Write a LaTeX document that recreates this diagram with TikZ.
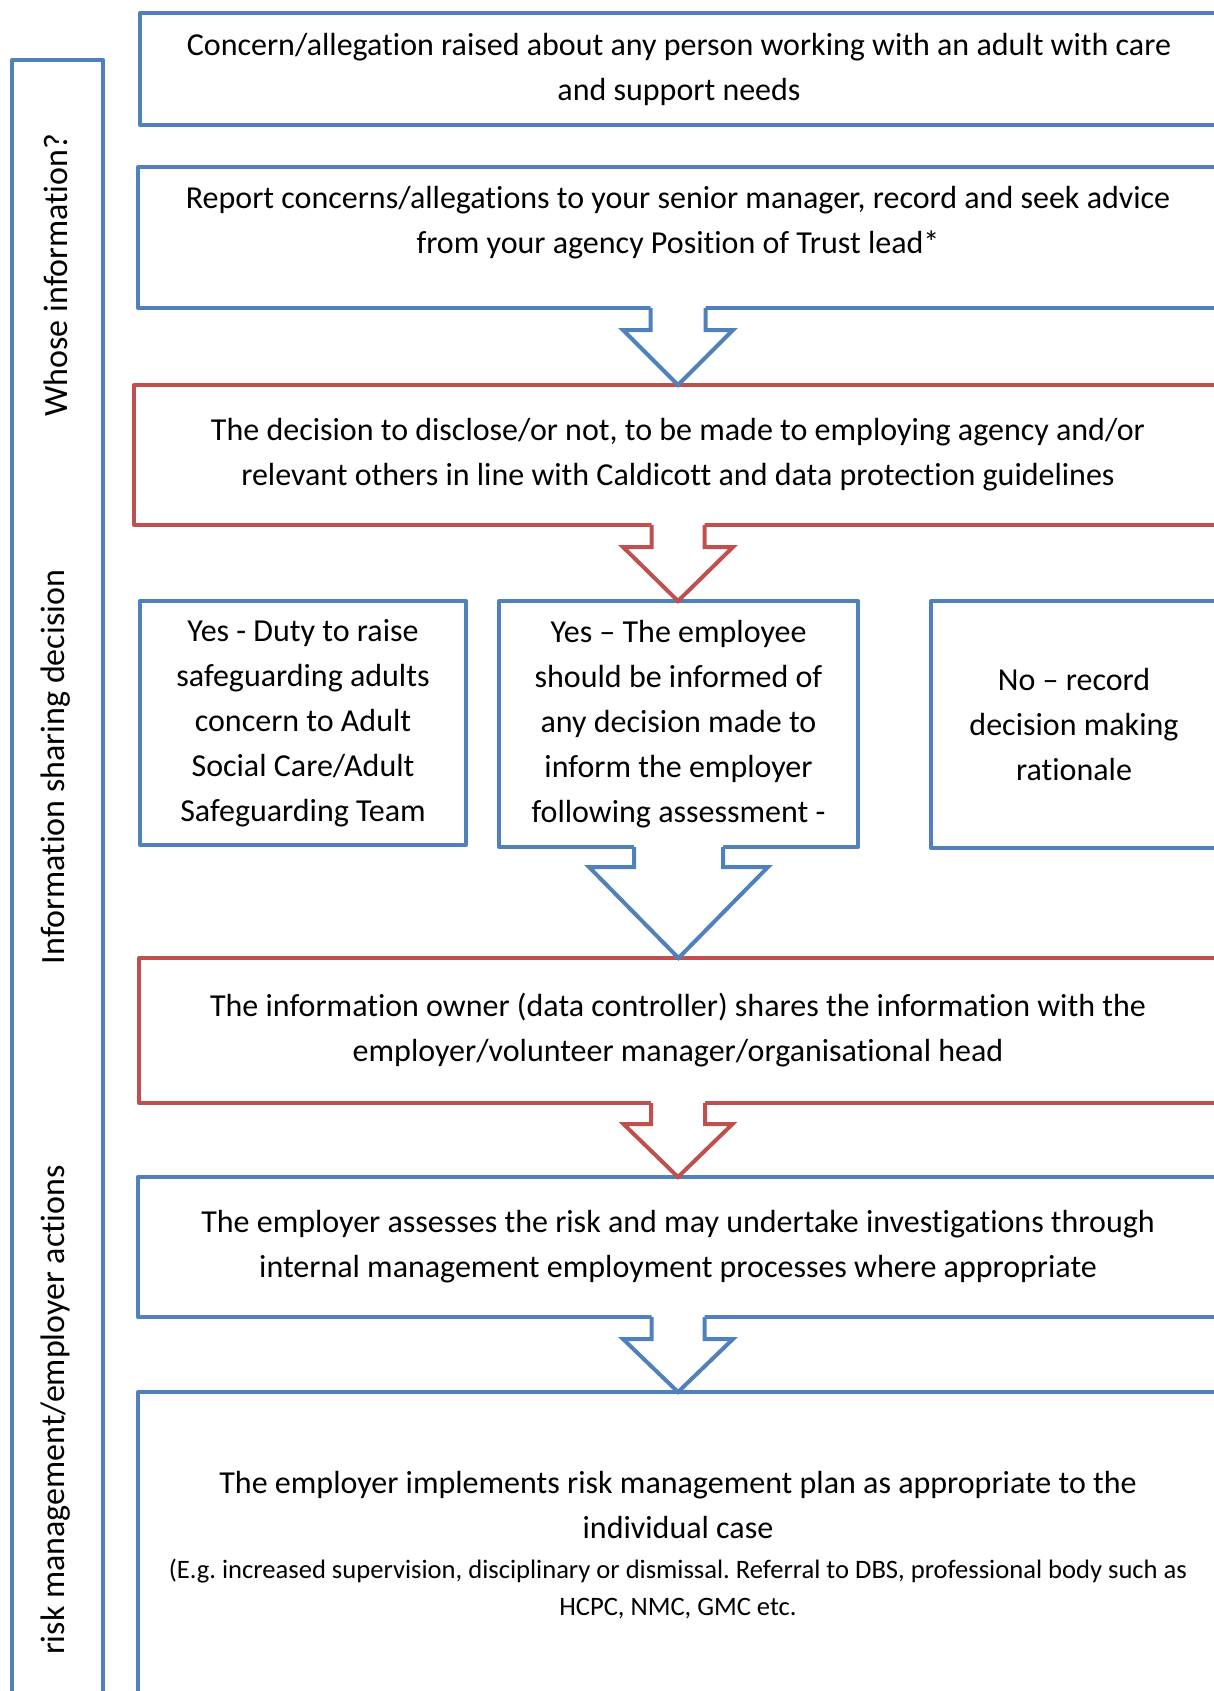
\documentclass[tikz,border=0pt]{standalone}
\usepackage{fontspec}
\setmainfont[Ligatures=NoCommon]{Carlito}
\usetikzlibrary{calc}
\definecolor{obl}{HTML}{4F81BD}
\definecolor{ored}{HTML}{C0504D}
\frenchspacing
\newcommand{\mainf}{\fontsize{32}{45}\selectfont}
\newcommand{\smallf}{\fontsize{26.6}{37}\selectfont}
\newcommand{\sidef}{\fontsize{34}{40}\selectfont}
\newcommand{\blockarr}[6]{%
  \fill[white] ($(#2.south)+(-#4,-3)$) -- ($(#2.south)+(-#4,#5)$) -- ($(#2.south)+(-#6,#5)$) -- (#2.south |- #3.north) -- ($(#2.south)+(#6,#5)$) -- ($(#2.south)+(#4,#5)$) -- ($(#2.south)+(#4,-3)$) -- cycle;
  \draw[#1, line width=4pt, line join=miter] ($(#2.south)+(-#4,0)$) -- ($(#2.south)+(-#4,#5)$) -- ($(#2.south)+(-#6,#5)$) -- (#2.south |- #3.north) -- ($(#2.south)+(#6,#5)$) -- ($(#2.south)+(#4,#5)$) -- ($(#2.south)+(#4,0)$);
}
\begin{document}
\begin{tikzpicture}[x=1pt,y=-1pt,
  box/.style={draw, line width=4pt, fill=white, outer sep=0pt, inner sep=0pt,
    anchor=north west, line join=round, align=center, font=\mainf, text=black},
  bluebox/.style={box, draw=obl},
  redbox/.style={box, draw=ored},
  plain/.style={align=center, inner sep=0pt, text=black},
  sidelabel/.style={rotate=90, font=\sidef, inner sep=0pt, text=black}]
\useasboundingbox (0,0) rectangle (1214,1691);
\fill[white] (0,0) rectangle (1214,1691);
\clip (0,0) rectangle (1214,1691);

% sidebar
\node[bluebox, minimum width=91pt, minimum height=1700pt] (side) at (12,60) {};
\node[sidelabel] (l1) at (56,275) {Whose information?};
\node[sidelabel] (l2) at (56,767) {Information sharing decision};
\node[sidelabel] (l3) at (56,1410) {risk management/employer actions};

% main boxes
\node[bluebox, minimum width=1078pt, minimum height=112pt] (b1) at (140,13)
  {Concern/allegation raised about any person working with an adult with care\\and support needs};
\node[bluebox, minimum width=1080pt, minimum height=141pt] (b2) at (138,167) {};
\node[plain, font=\mainf] (t2) at (678,223)
  {Report concerns/allegations to your senior manager, record and seek advice\\from your agency Position of Trust lead*};
\node[redbox, minimum width=1088pt, minimum height=140pt] (b3) at (134,385)
  {The decision to disclose/or not, to be made to employing agency and/or\\relevant others in line with Caldicott and data protection guidelines};

\node[bluebox, minimum width=326pt, minimum height=244pt] (bA) at (140,601)
  {Yes - Duty to raise\\safeguarding adults\\concern to Adult\\Social Care/Adult\\Safeguarding Team};
\node[bluebox, minimum width=359pt, minimum height=246pt] (bB) at (499,601)
  {Yes -- The employee\\should be informed of\\any decision made to\\inform the employer\\following assessment -};
\node[bluebox, minimum width=286pt, minimum height=247pt] (bC) at (931,601)
  {No -- record\\decision making\\rationale};

\node[redbox, minimum width=1078pt, minimum height=145pt] (b4) at (139,958)
  {The information owner (data controller) shares the information with the\\employer/volunteer manager/organisational head};
\node[bluebox, minimum width=1080pt, minimum height=140pt] (b5) at (138,1177)
  {The employer assesses the risk and may undertake investigations through\\internal management employment processes where appropriate};
\node[bluebox, minimum width=1080pt, minimum height=400pt] (b6) at (138,1392) {};
\node[plain, font=\mainf] (t6a) at (678,1505)
  {The employer implements risk management plan as appropriate to the\\individual case};
\node[plain, font=\smallf] (t6b) at (678,1589)
  {(E.g. increased supervision, disciplinary or dismissal. Referral to DBS, professional body such as\\HCPC, NMC, GMC etc.};

% block arrows
\blockarr{obl}{b2}{b3}{27.5}{22}{55}
\blockarr{ored}{b3}{bB}{26.5}{22}{55}
\blockarr{obl}{bB}{b4}{44.5}{20}{89.5}
\blockarr{ored}{b4}{b5}{27}{21}{54.5}
\blockarr{obl}{b5}{b6}{26.5}{22}{55}
\end{tikzpicture}
\end{document}
